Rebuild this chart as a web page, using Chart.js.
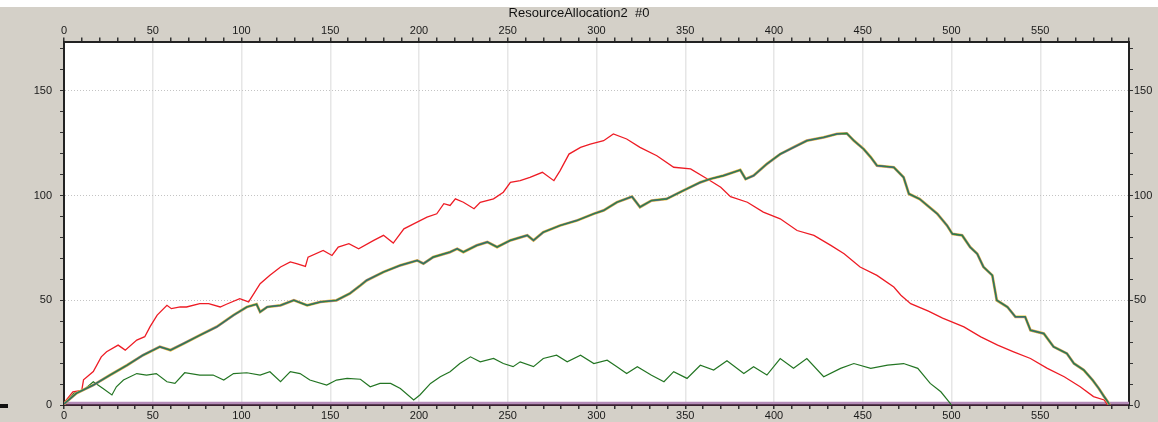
<!DOCTYPE html>
<html>
<head>
<meta charset="utf-8">
<title>ResourceAllocation2 #0</title>
<script src="https://cdn.jsdelivr.net/npm/chart.js@4.4.1/dist/chart.umd.min.js"></script>
<style>
  html, body { margin: 0; padding: 0; }
  body { background: #d4d0c8; width: 1158px; height: 422px; overflow: hidden; }
  #wrap { position: relative; width: 1158px; height: 422px; background: linear-gradient(#fff 0, #fff 7px, #d4d0c8 7px); }
  #mark { position: absolute; left: 0; top: 404px; width: 8px; height: 4px; background: #111; }
</style>
</head>
<body>
<div id="wrap"><canvas id="chart"></canvas><div id="mark"></div></div>
<script>
// values, x = step, y = count
var redX = [0, 0.5, 5, 10, 11, 16.5, 21, 24, 30.5, 34.5, 41, 45.5, 48.5, 52.5, 58, 60.5, 65.5, 69, 76.5, 81.5, 88, 91.5, 99, 104,
  110.5, 116, 122, 127.5, 131, 136, 137.5, 146, 151, 154.5, 160.5, 166, 174.5, 180, 185.5, 191.5, 197, 204.5, 210, 214,
  217.5, 220.5, 225, 231, 234.5, 242, 247.5, 251.5, 257, 262.5, 269.5, 276, 279.5, 284.5, 291, 296.5, 304, 309.5, 317,
  324.5, 334, 343.5, 353, 362.5, 370, 375.5, 385, 394, 403.5, 413, 422.5, 432, 439.5, 448.5, 458, 467.5, 471.5, 477,
  487, 495, 507, 516.5, 526, 535, 544.5, 554, 563.5, 572.5, 580, 586, 588];
var redY = [0, 1.6, 6.3, 7, 12, 16, 23, 25.4, 28.6, 26.2, 31, 32.6, 37.4, 42.9, 47.6, 46, 46.8, 46.8, 48.4, 48.4, 46.8, 48.1,
  50.8, 49.2, 57.9, 61.9, 65.9, 68.3, 67.5, 66.2, 70.6, 73.8, 71.4, 75.4, 77, 74.6, 78.6, 81, 77.3, 84.1, 86.5, 89.7,
  91.3, 96.1, 95.3, 98.4, 96.8, 93.7, 96.8, 98.4, 101.6, 106.3, 107.1, 108.7, 111.1, 107.1, 111.9, 119.8, 123, 124.6,
  126.2, 129.4, 127, 123, 119, 113.5, 112.7, 107.9, 104, 99.5, 96.8, 92.1, 88.9, 83.3, 81, 76.2, 72.2, 65.9, 61.9, 56.3,
  52.4, 48.4, 44.8, 41.5, 37.3, 32.5, 28.6, 25.4, 22.2, 17.5, 13.5, 8.7, 4, 2.4, 0];

var mainX = [0, 7, 16.5, 26, 35.5, 44.5, 54, 60, 67.5, 76.5, 86, 95.5, 103, 108.5, 110.5, 114.5, 122, 129.5, 137, 144.5, 153.5,
  161, 167, 170.5, 180, 189.5, 199, 202.5, 208, 217.5, 221.5, 225, 232.5, 238.5, 244, 251.5, 261, 264.5, 270, 279.5, 289,
  298.5, 304, 311.5, 320, 324.5, 331, 339.5, 349, 358.5, 364, 371.5, 381, 384, 388.5, 396, 403.5, 411, 418.5, 428, 435.5,
  441, 445, 450.5, 454.5, 458, 467.5, 473, 476, 482, 486.5, 492, 497.5, 500.5, 506, 510.5, 514.5, 518, 523, 525.5, 531.5,
  536, 541.5, 544.5, 552, 557.5, 565, 569, 574.5, 579.5, 583, 586, 588, 589];
var mainY = [0.5, 5.6, 9.5, 14.3, 19, 23.8, 27.8, 26.2, 29.4, 33.3, 37.3, 42.9, 46.8, 48.1, 44.4, 46.8, 47.6, 50, 47.6, 49.2,
  50, 53.2, 57.1, 59.5, 63.5, 66.7, 69, 67.5, 70.6, 73, 74.6, 73, 76.2, 77.8, 75.4, 78.6, 81, 78.6, 82.5, 85.7, 88.1, 91.3,
  92.9, 96.8, 99.5, 94.5, 97.6, 98.4, 102.4, 106.3, 107.9, 109.5, 112.2, 107.9, 109.5, 115.1, 119.8, 123, 126.2, 127.8,
  129.4, 129.7, 126.2, 122.2, 118.3, 114.3, 113.5, 108.7, 100.8, 98.4, 95.2, 91.3, 85.7, 81.7, 81, 75.4, 72.2, 65.9, 61.9,
  50, 46.8, 42.1, 42.1, 35.7, 34.1, 27.8, 24.6, 19.8, 16.7, 11.9, 7.9, 4, 1.6, 0];

var lowX = [0, 5.5, 11, 16.5, 22, 27, 29.5, 33.5, 41, 46.5, 52, 58, 62.5, 68, 76.5, 84, 90, 95.5, 103, 110.5, 116, 122, 127.5,
  133, 138.5, 148, 153.5, 159.5, 167, 172.5, 178, 184, 189.5, 197, 200.5, 206.5, 212, 217.5, 223, 229, 234.5, 242,
  247.5, 253, 257, 264.5, 270, 277.5, 283.5, 291, 298.5, 306, 311.5, 317, 323, 331, 338, 343.5, 351, 358.5, 366, 373.5,
  383, 388.5, 396, 403.5, 411, 418.5, 428, 437.5, 445, 454.5, 464, 473, 481, 488, 494, 498.5, 500];
var lowY = [0, 5.6, 7.1, 11.1, 7.9, 4.8, 8.7, 11.9, 15, 14.3, 15, 11.1, 10.3, 15.4, 14.3, 14.3, 11.9, 15, 15.4, 14.3, 15.9, 11.1,
  15.9, 15, 11.9, 9.5, 11.9, 12.7, 12.3, 8.7, 10.3, 10.3, 7.9, 2.4, 4.8, 10.3, 13.5, 15.9, 19.8, 23, 20.6, 22.2, 19.8,
  18.3, 20.6, 18.3, 22.2, 23.8, 20.6, 23.8, 19.8, 21.4, 18.3, 15, 18.3, 14.2, 11.1, 15.9, 12.7, 19, 16.7, 21.1, 15, 18.3,
  14.3, 22.2, 17.5, 22.2, 13.5, 17.5, 19.8, 17.5, 19, 19.8, 17.5, 10.3, 6.3, 1.6, 0];

var baseX = [0, 600];
var baseY = [1, 1];

var xMin = 0, xMax = 600, yMin = 0, yMax = 173.5;
var chartTitle = 'ResourceAllocation2  #0';

var fontFamily = '"Liberation Sans", Arial, sans-serif';
var tickFont = { family: fontFamily, size: 11 };

function pts(xs, ys) {
    return xs.map(function (x, i) { return { x: x, y: ys[i] }; });
}

function series(label, xs, ys, color, width) {
    return {
        label: label,
        data: pts(xs, ys),
        borderColor: color,
        borderWidth: width,
        pointRadius: 0,
        tension: 0,
        fill: false
    };
}

function label50(v) {
    return v % 50 === 0 && v < xMax ? String(v) : '';
}

function gridAt50(color) {
    return function (c) {
        return c.tick && c.tick.value > 0 && c.tick.value % 50 === 0 ? color : 'rgba(0,0,0,0)';
    };
}

// white plot area on the grey window
var plotBg = {
    id: 'plotBg',
    beforeDraw: function (chart) {
        var a = chart.chartArea, ctx = chart.ctx;
        ctx.save();
        ctx.fillStyle = '#ffffff';
        ctx.fillRect(a.left, a.top, a.right - a.left, a.bottom - a.top);
        ctx.restore();
    }
};

function xAxis(pos, h, showGrid) {
    return {
        type: 'linear', position: pos, min: xMin, max: xMax,
        ticks: { stepSize: 10, autoSkip: false, maxRotation: 0, callback: label50, font: tickFont, color: '#1a1a1a', padding: pos === 'top' ? 0 : 0 },
        grid: { drawOnChartArea: showGrid, color: gridAt50('#e6e6e6'), lineWidth: 1.5, tickColor: '#333', tickLength: 4 },
        border: { color: pos === 'top' ? '#222' : '#3a2030', width: 2 },
        afterFit: function (s) { s.height = h; }
    };
}

function yAxis(pos, w, showGrid) {
    return {
        type: 'linear', position: pos, min: yMin, max: yMax,
        ticks: { stepSize: 10, includeBounds: false, callback: label50, font: tickFont, color: '#1a1a1a', padding: pos === 'left' ? 8 : 1 },
        grid: { drawOnChartArea: showGrid, color: gridAt50('#c4c4c4'), lineWidth: 1, tickColor: '#333', tickLength: 4 },
        border: { color: '#222', width: 2, dash: [1, 2] },
        afterFit: function (s) { s.width = w; }
    };
}

new Chart(document.getElementById('chart'), {
    type: 'line',
    data: {
        datasets: [
            series('main', mainX, mainY, '#2e8a2e', 1.1),
            series('main b', mainX, mainY, '#5a4fc8', 1.8),
            series('main c', mainX, mainY, '#e8c030', 2.8),
            series('red', redX, redY, '#ee1c25', 1.3),
            series('low', lowX, lowY, '#237523', 1.2),
            series('base', baseX, baseY, '#b48cb8', 2.5)
        ]
    },
    options: {
        responsive: true,
        maintainAspectRatio: false,
        animation: false,
        parsing: true,
        layout: { padding: 0 },
        plugins: {
            legend: { display: false },
            tooltip: { enabled: false },
            title: {
                display: true,
                text: chartTitle,
                color: '#111',
                font: { family: fontFamily, size: 13, weight: 'normal' },
                padding: { top: 6, bottom: 0 }
            }
        },
        scales: {
            x: xAxis('bottom', 17, true),
            x2: xAxis('top', 20, false),
            y: yAxis('left', 64, true),
            y2: yAxis('right', 29, false)
        }
    },
    plugins: [plotBg]
});
</script>
</body>
</html>
